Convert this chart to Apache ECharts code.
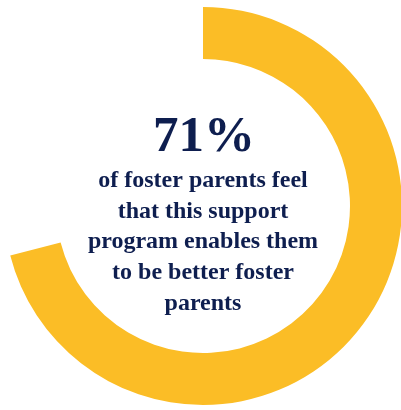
<!DOCTYPE html>
<html>
<head>
<meta charset="utf-8">
<script src="https://cdn.jsdelivr.net/npm/echarts@6/dist/echarts.min.js"></script>
<style>
html,body{margin:0;padding:0;background:#fff;}
#chart{width:401px;height:410px;}
</style>
</head>
<body>
<div id="chart"></div>
<script>
const categories = ['Agree', 'Other'];
const values = [71, 29];
const headline = '71%';
const bodyLines = [
  'of foster parents feel',
  'that this support',
  'program enables them',
  'to be better foster',
  'parents'
];

const yellow = '#FBBD26';
const navy = '#0E1E4F';
const cx = 203, cy = 206;

const chart = echarts.init(document.getElementById('chart'), null, {renderer: 'canvas'});

const textEls = [{
  type: 'text',
  x: cx + 1, y: 138,
  style: {
    text: headline,
    font: 'bold 51px "Liberation Serif", serif',
    fill: navy,
    align: 'center',
    verticalAlign: 'middle'
  }
}];
bodyLines.forEach((t, i) => {
  textEls.push({
    type: 'text',
    x: cx, y: 181 + i * 30.6,
    style: {
      text: t,
      font: 'bold 24px "Liberation Serif", serif',
      fill: navy,
      align: 'center',
      verticalAlign: 'middle'
    }
  });
});

chart.setOption({
  animation: false,
  series: [{
    type: 'pie',
    center: [cx, cy],
    radius: [147, 199],
    startAngle: 90,
    clockwise: true,
    silent: true,
    label: {show: false},
    labelLine: {show: false},
    data: categories.map((c, i) => ({
      name: c,
      value: values[i],
      itemStyle: {color: i === 0 ? yellow : 'rgba(0,0,0,0)'}
    }))
  }],
  graphic: textEls
});
</script>
</body>
</html>
